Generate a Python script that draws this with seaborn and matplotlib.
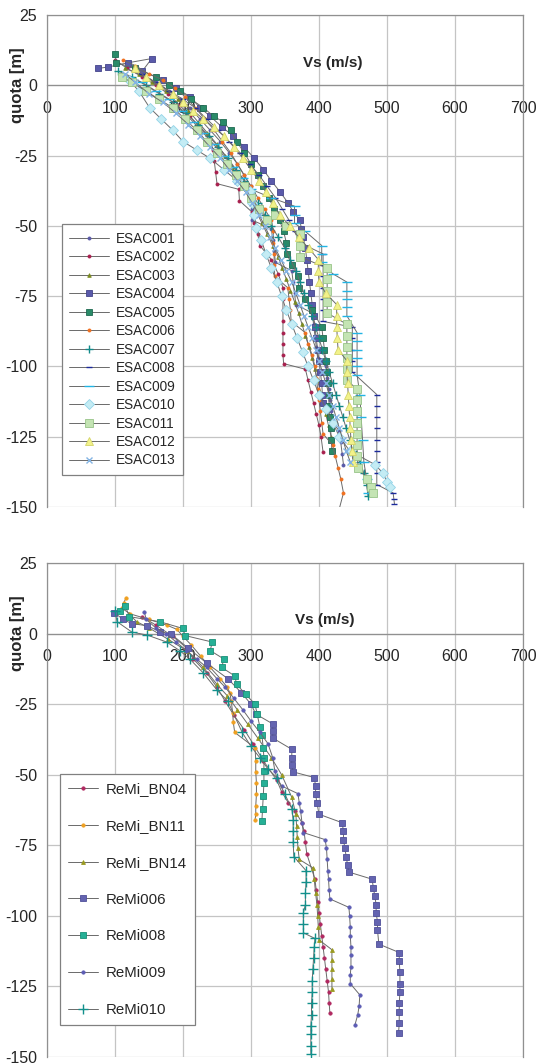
import numpy as np
import pandas as pd
import seaborn as sns
import matplotlib.pyplot as plt
from matplotlib.ticker import MultipleLocator

# ---- ESAC profiles (Vs [m/s], quota [m]) ----
esac001_vs = [120, 140, 160, 180, 195, 210, 225, 240, 255, 268, 280, 290, 300, 301, 301, 302, 330, 332, 334, 336,
              360, 362, 364, 366, 390, 392, 394, 396, 398, 410, 412, 414, 416, 418, 420, 430, 432, 434, 436]
esac001_z = [7, 4, 1, -2, -5, -8, -12, -16, -20, -24, -28, -32, -36, -40, -44, -48, -51, -55, -59, -63,
             -66, -70, -74, -78, -81, -85, -89, -93, -97, -100, -104, -108, -112, -116, -120, -123, -127, -131, -135]

esac002_vs = [100, 118, 140, 160, 178, 195, 210, 225, 240, 244, 246, 248, 250, 282, 283, 301, 305, 310, 313, 330,
              340, 347, 347, 347, 347, 347, 347, 347, 348, 380, 384, 388, 392, 396, 400, 403, 406]
esac002_z = [9, 6, 3, 0, -3, -7, -11, -15, -19, -23, -27, -31, -35, -37, -41, -45, -49, -53, -57, -62,
             -67, -72, -76, -80, -84, -88, -92, -96, -99, -101, -105, -109, -113, -117, -121, -125, -130.5]

esac003_vs = [115, 135, 155, 175, 192, 208, 222, 236, 250, 262, 272, 282, 292, 300, 308, 316, 324, 332, 340, 346,
              352, 358, 364, 370, 375, 380, 385, 390, 394, 398, 402, 406, 410, 414, 418]
esac003_z = [6, 4, 1, -2, -5, -9, -13, -17, -21, -25, -29, -33, -37, -41, -45, -49, -53, -57, -61, -65,
             -69, -73, -77, -81, -85, -89, -93, -97, -101, -105, -109, -113, -117, -121, -125]

esac004_vs = [75, 90, 119, 154, 140, 170, 190, 210, 225, 240, 258, 274, 290, 305, 318, 330, 343, 355, 362, 372,
              374, 377, 380, 382, 384, 386, 388, 390, 392, 394, 396, 398, 400, 402, 404, 405, 406]
esac004_z = [6, 6.5, 8, 9.5, 5, 2, -1, -4, -8, -11, -15, -18, -22, -26, -30, -34, -38, -42, -45, -48,
             -51, -54, -58, -62, -66, -70, -74, -78, -82, -86, -90, -94, -98, -102, -106, -110, -113]

esac005_vs = [100, 102, 130, 160, 180, 196, 212, 230, 245, 259, 270, 279, 290, 300, 310, 318, 326, 334, 342, 348,
              352, 353, 360, 369, 370, 380, 390, 404, 406, 408, 410, 412, 413, 414, 415, 416, 417, 418, 419]
esac005_z = [11, 8, 6, 3, 0, -2, -5, -8, -11, -13, -16, -20, -24, -28, -32, -36, -40, -44, -48, -52,
             -56, -60, -64, -68, -72, -76, -80, -86, -90, -94, -98, -102, -106, -110, -114, -118, -122, -126, -130]

esac006_vs = [112, 130, 150, 170, 188, 203, 218, 232, 246, 258, 270, 280, 290, 300, 310, 320, 330, 333, 333, 334,
              334, 335, 354, 356, 358, 359, 380, 384, 390, 394, 396, 398, 400, 402, 404, 406, 420, 424, 428, 432,
              436, 425]
esac006_z = [9, 7, 4, 2, -1, -4, -8, -12, -16, -20, -24, -28, -32, -36, -40, -44, -48, -52, -56, -60,
             -64, -68, -72, -76, -80, -84, -88, -92, -96, -100, -104, -108, -112, -116, -120, -124, -128, -132, -136, -140,
             -145, -155]

esac007_vs = [105, 125, 145, 165, 185, 205, 222, 238, 252, 266, 278, 290, 300, 310, 320, 330, 340, 350, 358, 366,
              372, 378, 384, 390, 395, 400, 405, 410, 415, 420, 425, 430, 435, 440, 445, 450, 460, 466, 470, 472]
esac007_z = [5, 3, 0, -3, -6, -10, -14, -18, -22, -26, -30, -34, -38, -42, -46, -50, -54, -58, -62, -66,
             -70, -74, -78, -82, -86, -90, -94, -98, -102, -106, -110, -114, -118, -122, -126, -130, -134, -138, -142, -146]

esac008_vs = [140, 160, 180, 200, 218, 235, 252, 268, 284, 298, 312, 324, 336, 346, 356, 364, 372, 406, 406, 406,
              406, 406, 406, 406, 449, 449, 449, 449, 449, 485, 485, 485, 485, 485, 485, 485, 485, 485, 509, 510, 511]
esac008_z = [4, 1, -2, -5, -8, -12, -16, -20, -24, -28, -32, -36, -40, -44, -48, -52, -56, -60, -64, -68,
             -72, -76, -80, -84, -86, -90, -94, -98, -102, -110, -114, -118, -122, -126, -130, -134, -138, -142, -145, -147, -149]

esac009_vs = [120, 140, 160, 180, 198, 215, 230, 245, 260, 274, 288, 300, 330, 364, 364, 364, 380, 404, 404, 404,
              420, 441, 441, 441, 441, 441, 456, 456, 456, 456, 456, 456, 460, 462, 464, 466, 470, 472]
esac009_z = [3, 1, -2, -5, -9, -13, -17, -21, -25, -29, -33, -37, -40, -43, -46, -49, -52, -57, -60, -63,
             -67, -70, -73, -76, -79, -82, -88, -91, -94, -97, -100, -103, -110, -118, -126, -134, -140, -145]

esac010_vs = [120, 135, 151, 168, 185, 200, 220, 240, 260, 280, 298, 302, 305, 308, 315, 322, 330, 338, 345, 352,
              360, 368, 376, 384, 392, 400, 410, 420, 430, 445, 483, 494, 500, 504]
esac010_z = [2, -2, -8, -12, -16, -20, -23, -26, -30, -34, -37.6, -42, -46, -50.7, -55, -60, -65, -70, -75, -80,
             -85, -90, -95, -100, -105, -110, -115, -120, -125, -130, -135, -138, -141, -143]

esac011_vs = [110, 125, 145, 165, 185, 203, 220, 235, 250, 265, 278, 290, 300, 312, 324, 336, 352, 372, 372, 372,
              412, 412, 412, 412, 412, 441, 441, 441, 441, 441, 441, 456, 456, 456, 456, 456, 456, 456, 458, 470,
              476, 480]
esac011_z = [3, 1, -2, -5, -8, -12, -16, -20, -24, -28, -32, -36, -40, -44, -48, -46, -50, -53, -57, -61,
             -65, -69, -73, -77, -81, -85, -89, -93, -97, -101, -105, -108, -112, -116, -120, -124, -128, -132, -136, -140,
             -143, -145]

esac012_vs = [130, 145, 165, 185, 200, 215, 230, 245, 260, 275, 288, 300, 312, 322, 332, 342, 357, 370, 385, 399,
              399, 400, 410, 426, 426, 426, 427, 428, 441, 441, 442, 443, 444, 445, 446, 447, 448, 450]
esac012_z = [6, 3, 0, -3, -6, -9, -12, -15, -18, -22, -26, -30, -34, -38, -42, -46, -50, -54, -58, -62,
             -66, -70, -74, -78, -82, -86, -90, -94, -98, -102, -106, -110, -114, -118, -122, -126, -130, -134]

esac013_vs = [115, 130, 150, 170, 190, 208, 225, 240, 255, 268, 280, 292, 302, 312, 320, 328, 336, 344, 352, 360,
              366, 372, 378, 384, 390, 396, 400, 405, 410, 415, 420, 425, 430, 435, 440, 446]
esac013_z = [4, 1, -3, -6, -10, -14, -18, -22, -26, -30, -34, -38, -42, -46, -50, -54, -58, -62, -66, -70,
             -74, -78, -82, -86, -90, -94, -98, -102, -106, -110, -114, -118, -122, -126, -130, -134]

# ---- ReMi profiles ----
bn04_vs = [140, 160, 185, 205, 215, 235, 250, 262, 275, 290, 303, 318, 338, 345, 355, 365, 375, 378, 380, 382,
           394, 396, 398, 400, 402, 404, 406, 408, 410, 412, 414, 415, 416]
bn04_z = [6, 3, -1, -5, -9, -14, -19, -24, -29, -34, -39, -45, -52, -56, -60, -63, -67, -70, -74, -78,
          -87, -91, -95, -99, -103, -107, -111, -115, -119, -123, -127, -131, -134.5]

bn11_vs = [116, 113, 110, 122, 150, 176, 191, 200, 212, 226, 240, 255, 265, 269, 271, 273, 274, 276, 306, 307,
           307, 308, 308, 307, 307, 306]
bn11_z = [12.5, 11, 9, 7, 5, 3, 1.5, -1, -4, -8, -12, -16, -19, -21, -24, -28, -31.5, -35, -40.5, -45,
          -49, -53, -57, -61, -64, -66]

bn14_vs = [120, 132, 150, 178, 205, 230, 250, 265, 280, 295, 310, 330, 345, 360, 366, 367, 368, 369, 371, 391,
           393, 395, 397, 398, 399, 400, 419, 419, 419, 419, 419]
bn14_z = [7, 4.2, 2, -2, -6, -12, -18, -22, -27, -32, -37, -44, -50, -58, -64, -68, -72, -76, -80, -83,
          -87, -92, -96, -100, -104, -108.5, -112, -115.5, -119, -122.5, -126]

remi006_vs = [99, 112, 125, 147, 166, 183, 207, 235, 266, 286, 300, 307, 332, 332, 332, 360, 360, 360, 362, 393,
              395, 395, 397, 400, 434, 436, 436, 438, 440, 442, 444, 478, 480, 482, 484, 484, 486, 486, 488, 518,
              518, 519, 519, 519, 518, 518, 518, 517]
remi006_z = [7.4, 5, 3.5, 2.8, 0.7, -0.3, -5, -10.5, -16, -21, -25, -28.5, -32, -34.5, -37, -41, -44, -46.5, -49, -51,
             -54, -57, -60, -64, -67, -70, -73, -76, -79, -82, -84.5, -87, -90, -93, -96, -99, -102, -105, -110, -113,
             -116, -120, -124, -127, -131, -134, -138, -141.5]

remi008_vs = [108, 115, 121, 166, 200, 203, 243, 240, 260, 257, 276, 279, 292, 306, 309, 313, 316, 318, 319, 319,
              319, 318, 317, 316]
remi008_z = [8, 9.9, 6, 4.2, 1.8, -0.7, -3, -6, -9, -12, -15, -18, -21.5, -25, -28.5, -33, -36, -40.5, -44, -48.6,
             -53, -57.7, -62, -66.5]

remi009_vs = [143, 146, 160, 175, 190, 205, 220, 235, 250, 262, 275, 288, 300, 313, 325, 332, 335, 338, 345, 369,
              371, 373, 375, 377, 409, 411, 412, 413, 414, 415, 416, 444, 445, 446, 446, 447, 447, 447, 446, 446,
              460, 459, 457, 453]
remi009_z = [7.7, 5, 2, 0, -3, -6, -9, -12, -16, -19, -23, -27, -31, -35, -39, -44, -48.6, -51, -54, -56.7,
             -60, -63, -67, -70.5, -73, -76, -80, -84, -87, -91, -94, -97, -100, -104, -107, -111, -114, -118, -121, -124,
             -128, -132, -135, -138.5]

remi010_vs = [100, 103, 125, 147, 176, 195, 210, 230, 250, 266, 287, 300, 313, 325, 338, 350, 360, 362, 362, 362,
              363, 381, 381, 380, 380, 377, 377, 377, 394, 393, 392, 391, 390, 390, 389, 389, 388, 388, 388, 388]
remi010_z = [8, 4.2, 0.5, -0.5, -3, -6, -9, -14, -20, -24, -35, -40, -44, -48, -51, -57, -62, -66, -70, -74,
             -79, -84, -88, -92, -96, -99, -103, -106, -108, -111, -115, -119, -123, -127, -131, -135, -139, -142, -146, -149]

# name, vs, z, marker, size, face, edge
esac_series = [
    ("ESAC001", esac001_vs, esac001_z, "o", 2.2, "#5a5aa8", "#5a5aa8"),
    ("ESAC002", esac002_vs, esac002_z, "o", 2.2, "#a8204e", "#a8204e"),
    ("ESAC003", esac003_vs, esac003_z, "^", 2.6, "#7a8a20", "#7a8a20"),
    ("ESAC004", esac004_vs, esac004_z, "s", 4.4, "#5a5aaa", "#44448a"),
    ("ESAC005", esac005_vs, esac005_z, "s", 4.4, "#2a8a68", "#1e6a50"),
    ("ESAC006", esac006_vs, esac006_z, "o", 2.2, "#f07020", "#f07020"),
    ("ESAC007", esac007_vs, esac007_z, "+", 6.0, "#128a8a", "#128a8a"),
    ("ESAC008", esac008_vs, esac008_z, "_", 5.0, "#1c2a9c", "#1c2a9c"),
    ("ESAC009", esac009_vs, esac009_z, "_", 7.0, "#22b4e4", "#22b4e4"),
    ("ESAC010", esac010_vs, esac010_z, "D", 5.2, "#c4ecf4", "#94d4e8"),
    ("ESAC011", esac011_vs, esac011_z, "s", 6.2, "#c4e4b4", "#98c488"),
    ("ESAC012", esac012_vs, esac012_z, "^", 6.2, "#f2f28a", "#d4d468"),
    ("ESAC013", esac013_vs, esac013_z, "x", 5.0, "#84b4e4", "#84b4e4"),
]

remi_series = [
    ("ReMi_BN04", bn04_vs, bn04_z, "o", 2.4, "#b02860", "#b02860"),
    ("ReMi_BN11", bn11_vs, bn11_z, "o", 2.4, "#f0a020", "#f0a020"),
    ("ReMi_BN14", bn14_vs, bn14_z, "^", 2.8, "#9a9a20", "#9a9a20"),
    ("ReMi006", remi006_vs, remi006_z, "s", 4.8, "#6464b0", "#50509a"),
    ("ReMi008", remi008_vs, remi008_z, "s", 4.8, "#26b096", "#1a9078"),
    ("ReMi009", remi009_vs, remi009_z, "o", 2.4, "#5c5cb4", "#5c5cb4"),
    ("ReMi010", remi010_vs, remi010_z, "+", 7.5, "#12908c", "#12908c"),
]

sns.set_style("white")
plt.rcParams["font.family"] = ["Liberation Sans", "DejaVu Sans"]
plt.rcParams["axes.unicode_minus"] = False

fig = plt.figure(figsize=(5.37, 10.64), dpi=100)
ax_top = fig.add_axes([47 / 537, 1 - 507 / 1064, 476 / 537, 492 / 1064])
ax_bot = fig.add_axes([47 / 537, 1 - 1057 / 1064, 476 / 537, 494 / 1064])

grid_c = "#c4c4c4"
frame_c = "#909090"


def draw_panel(ax, series, leg_anchor, leg_font, leg_spacing, leg_handle, label_xy):
    for name, vs, z, mk, ms, fc, ec in series:
        sns.lineplot(x=vs, y=z, sort=False, estimator=None, ax=ax, color="#6a6a6a",
                     linewidth=0.7, marker=mk, markersize=ms, markerfacecolor=fc,
                     markeredgecolor=ec, markeredgewidth=1.0 if mk in "+x_" else 0.6,
                     label=name, zorder=3)
    ax.set_xlim(0, 700)
    ax.set_ylim(-150, 25)
    ax.xaxis.set_major_locator(MultipleLocator(100))
    ax.xaxis.set_minor_locator(MultipleLocator(20))
    ax.yaxis.set_major_locator(MultipleLocator(25))
    ax.yaxis.set_minor_locator(MultipleLocator(5))
    ax.grid(True, which="major", color=grid_c, linewidth=0.9, zorder=0)
    ax.set_axisbelow(True)

    ax.spines["bottom"].set_position(("data", 0))
    for s in ["bottom", "left", "top", "right"]:
        ax.spines[s].set_color(frame_c)
        ax.spines[s].set_linewidth(0.9)
    ax.tick_params(axis="x", which="both", direction="in", length=3, color=frame_c,
                   labelsize=11.5, pad=11, top=False)
    ax.tick_params(axis="y", which="major", direction="out", length=4, color=frame_c,
                   labelsize=11.5, pad=3)
    ax.tick_params(axis="y", which="minor", direction="out", length=3, color=frame_c)
    ax.set_xlabel("")
    ax.set_ylabel("quota [m]", fontsize=12, fontweight="bold")
    ax.yaxis.set_label_coords(-0.047, 150 / 175)
    ax.text(label_xy[0], label_xy[1], "Vs (m/s)", fontsize=11, fontweight="bold",
            ha="center", va="center")

    leg = ax.legend(loc="upper left", bbox_to_anchor=leg_anchor, borderaxespad=0,
                    fontsize=leg_font, labelspacing=leg_spacing, handlelength=leg_handle,
                    fancybox=False, framealpha=1, edgecolor="#808080",
                    borderpad=0.55, handletextpad=0.5)
    leg.get_frame().set_linewidth(0.9)


draw_panel(ax_top, esac_series, (0.0315, 0.575), 9.8, 0.33, 2.9, (420, 7.8))
draw_panel(ax_bot, remi_series, (0.027, 0.573), 10.8, 1.52, 2.0, (408, 4.7))

fig.savefig("out.png", dpi=100)
